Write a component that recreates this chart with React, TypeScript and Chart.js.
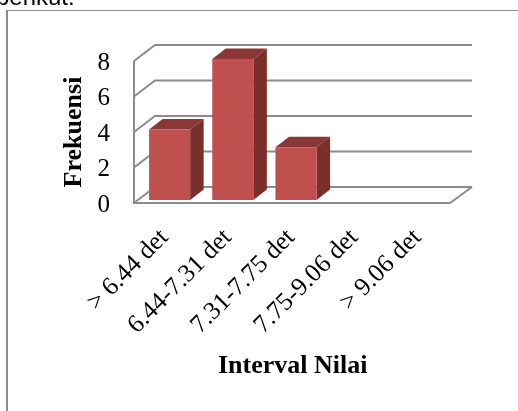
import React, { useEffect, useRef } from "react";
import { Chart, registerables } from "chart.js";

Chart.register(...registerables);

const categories = ["> 6.44 det", "6.44-7.31 det", "7.31-7.75 det", "7.75-9.06 det", "> 9.06 det"];
const frequencies = [4, 8, 3, 0, 0];
const yTicks = [0, 2, 4, 6, 8];
const xTitle = "Interval Nilai\u00a0";
const yTitle = "Frekuensi";
const pageText = "berikut:";

const FONT = '"Liberation Serif", serif';
const GRID = "#8c8c8c";

const DEPTH_X = 13.5;
const DEPTH_Y = 10.5;

const threeD = {
  id: "threeD",
  beforeDatasetsDraw(chart: any) {
    const { ctx, chartArea: a } = chart;
    const yS = chart.scales.y;
    const wallL = a.left - 4;
    const wallR = a.right - 4;
    const dx = 21;
    const dy = 16;
    ctx.save();
    ctx.strokeStyle = GRID;
    ctx.lineWidth = 2;
    for (const t of yTicks) {
      const y = yS.getPixelForValue(t);
      ctx.beginPath();
      ctx.moveTo(wallL, y);
      ctx.lineTo(wallL + dx, y - dy);
      ctx.lineTo(wallR + dx + 1, y - dy);
      ctx.stroke();
    }
    ctx.beginPath();
    ctx.moveTo(wallL, yS.getPixelForValue(8));
    ctx.lineTo(wallL, yS.getPixelForValue(0));
    ctx.lineTo(wallR, yS.getPixelForValue(0));
    ctx.lineTo(wallR + dx + 1, yS.getPixelForValue(0) - dy);
    ctx.stroke();
    const meta = chart.getDatasetMeta(0);
    meta.data.forEach((bar: any, i: number) => {
      if (!frequencies[i]) return;
      const { x, y, base, width } = bar.getProps(["x", "y", "base", "width"], true);
      const r = x + width / 2;
      const l = x - width / 2;
      ctx.fillStyle = "#8a3836";
      ctx.beginPath();
      ctx.moveTo(l, y);
      ctx.lineTo(l + DEPTH_X, y - DEPTH_Y);
      ctx.lineTo(r + DEPTH_X, y - DEPTH_Y);
      ctx.lineTo(r, y);
      ctx.closePath();
      ctx.fill();
      ctx.fillStyle = "#7a2f2d";
      ctx.beginPath();
      ctx.moveTo(r, y);
      ctx.lineTo(r + DEPTH_X, y - DEPTH_Y);
      ctx.lineTo(r + DEPTH_X, base - DEPTH_Y);
      ctx.lineTo(r, base);
      ctx.closePath();
      ctx.fill();
    });
    ctx.restore();
  },
};

const frame = {
  id: "frame",
  beforeDraw(chart: any) {
    const { ctx, width, height } = chart;
    ctx.save();
    ctx.fillStyle = "#ffffff";
    ctx.fillRect(0, 0, width, height);
    ctx.strokeStyle = "#8c8c8c";
    ctx.lineWidth = 2;
    ctx.beginPath();
    ctx.moveTo(7, height);
    ctx.lineTo(7, 10.5);
    ctx.stroke();
    ctx.lineWidth = 1.2;
    ctx.beginPath();
    ctx.moveTo(6, 10.5);
    ctx.lineTo(width, 10.5);
    ctx.stroke();
    ctx.fillStyle = "#000";
    ctx.font = '24px "Liberation Sans", sans-serif';
    ctx.textAlign = "left";
    ctx.textBaseline = "alphabetic";
    ctx.fillText(pageText, -4, 5);
    ctx.restore();
  },
};

export default function App() {
  const ref = useRef<HTMLCanvasElement>(null);
  useEffect(() => {
    document.body.style.margin = "0";
    const chart = new Chart(ref.current!, {
      type: "bar",
      data: {
        labels: categories,
        datasets: [
          {
            data: frequencies,
            yAxisID: "yBars",
            backgroundColor: "#bf504d",
            borderWidth: 0,
            barPercentage: 0.65,
            categoryPercentage: 1,
            clip: false,
          },
        ],
      },
      options: {
        animation: false,
        responsive: false,
        devicePixelRatio: 1,
        layout: { padding: { top: 61, left: 0, right: 64, bottom: 0 } },
        plugins: { legend: { display: false }, tooltip: { enabled: false } },
        scales: {
          x: {
            afterFit: (s: any) => {
              s.height = 208;
            },
            grid: { display: false },
            border: { display: false },
            ticks: {
              color: "#000",
              font: { family: FONT, size: 25.5 },
              minRotation: 45,
              maxRotation: 45,
              autoSkip: false,
              padding: 12,
              labelOffset: -5,
            },
            title: {
              display: true,
              text: xTitle,
              color: "#000",
              font: { family: FONT, size: 26, weight: "bold" },
              padding: { top: 12, bottom: 29 },
            },
          },
          y: {
            min: 0,
            max: 8,
            afterFit: (s: any) => {
              s.width = 138;
            },
            afterBuildTicks: (s: any) => {
              s.ticks = yTicks.map((value) => ({ value }));
            },
            grid: { display: false },
            border: { display: false },
            ticks: { color: "#000", font: { family: FONT, size: 25 }, padding: 20, labelOffset: 2 },
            title: {
              display: true,
              text: yTitle,
              color: "#000",
              font: { family: FONT, size: 26, weight: "bold" },
              padding: { top: 59, bottom: 2 },
            },
          },
          yBars: {
            display: false,
            min: -0.17,
            max: 7.89,
          },
        },
      },
      plugins: [frame, threeD],
    } as any);
    return () => chart.destroy();
  }, []);
  return <canvas ref={ref} width={518} height={411} style={{ display: "block" }} />;
}
